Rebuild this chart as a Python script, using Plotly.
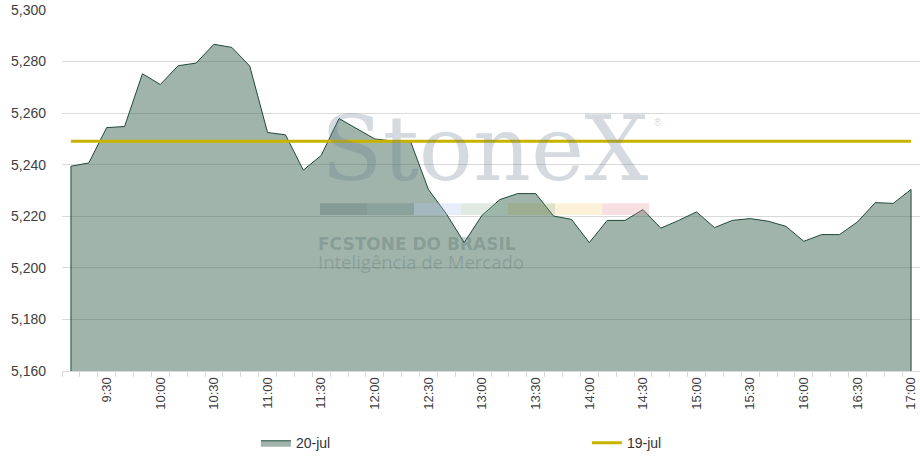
#!/usr/bin/env python3
# -*- coding: utf-8 -*-

"""
Dólar intradiário (20-jul) contra o fechamento do dia anterior (19-jul)
"""

import plotly.graph_objects as go

# horários (a cada 10 minutos)
times = [
    "9:10", "9:20", "9:30", "9:40", "9:50", "10:00", "10:10", "10:20",
    "10:30", "10:40", "10:50", "11:00", "11:10", "11:20", "11:30", "11:40",
    "11:50", "12:00", "12:10", "12:20", "12:30", "12:40", "12:50", "13:00",
    "13:10", "13:20", "13:30", "13:40", "13:50", "14:00", "14:10", "14:20",
    "14:30", "14:40", "14:50", "15:00", "15:10", "15:20", "15:30", "15:40",
    "15:50", "16:00", "16:10", "16:20", "16:30", "16:40", "16:50", "17:00",
]

# cotação do dia 20-jul
rate_20jul = [
    5.2394, 5.2407, 5.2544, 5.2548, 5.2753, 5.2711, 5.2784, 5.2794,
    5.2867, 5.2855, 5.2783, 5.2525, 5.2516, 5.2379, 5.2436, 5.2579,
    5.2539, 5.2500, 5.2492, 5.2490, 5.2304, 5.2210, 5.2098, 5.2204,
    5.2265, 5.2288, 5.2288, 5.2201, 5.2188, 5.2098, 5.2184, 5.2184,
    5.2226, 5.2154, 5.2184, 5.2217, 5.2156, 5.2184, 5.2191, 5.2181,
    5.2161, 5.2103, 5.2129, 5.2129, 5.2178, 5.2253, 5.2250, 5.2304,
]

# fechamento do dia 19-jul
close_19jul = 5.2491

y_range = [5.160, 5.300]

# cores da faixa do logo (marca d'água)
logo_colors = [
    "rgba(70,100,95,0.30)", "rgba(85,125,120,0.30)", "rgba(175,200,235,0.30)",
    "rgba(150,190,160,0.30)", "rgba(150,160,80,0.30)", "rgba(250,210,130,0.30)",
    "rgba(230,150,160,0.30)",
]

x_idx = list(range(len(times)))

fig = go.Figure()

# área fechada até a base do eixo (com bordas laterais)
fig.add_trace(go.Scatter(
    x=[x_idx[0]] + x_idx + [x_idx[-1]],
    y=[y_range[0]] + rate_20jul + [y_range[0]],
    name="20-jul",
    mode="lines",
    fill="toself",
    fillcolor="rgba(65,105,90,0.50)",
    line=dict(color="#1f4a3b", width=1),
    hoverinfo="skip",
))

fig.add_trace(go.Scatter(
    x=x_idx,
    y=[close_19jul] * len(x_idx),
    name="19-jul",
    mode="lines",
    line=dict(color="#c8b400", width=3),
))

# marca d'água StoneX
fig.add_annotation(
    x=0.493, y=0.617, xref="paper", yref="paper",
    text="StoneX", showarrow=False,
    font=dict(family="DejaVu Serif", size=90, color="rgba(100,120,140,0.27)"),
)
fig.add_annotation(
    x=0.702, y=0.709, xref="paper", yref="paper",
    text="®", showarrow=False,
    font=dict(family="Liberation Sans", size=10, color="rgba(100,120,140,0.3)"),
)
fig.add_annotation(
    x=0.296, y=0.352, xref="paper", yref="paper", xanchor="left",
    text="<b>FCSTONE DO BRASIL</b>", showarrow=False,
    font=dict(family="DejaVu Sans", size=17, color="rgba(80,100,100,0.30)"),
)
fig.add_annotation(
    x=0.296, y=0.263, xref="paper", yref="paper", xanchor="left",
    text="Inteligência de Mercado", showarrow=False,
    font=dict(family="Open Sans", size=18.5, color="rgba(80,100,100,0.28)"),
)
seg_w = 0.0548
for i, c in enumerate(logo_colors):
    fig.add_shape(
        type="rect", xref="paper", yref="paper",
        x0=0.3007 + i * seg_w, x1=0.3007 + (i + 1) * seg_w,
        y0=0.432, y1=0.465,
        fillcolor=c, line_width=0, layer="above",
    )

label_idx = [i for i, t in enumerate(times) if t.endswith(("00", "30"))]

fig.update_layout(
    width=920, height=460,
    margin=dict(l=62, r=0, t=10, b=89, autoexpand=False),
    paper_bgcolor="white",
    plot_bgcolor="white",
    separators=",.",
    font=dict(family="Liberation Sans", size=13, color="#333333"),
    showlegend=True,
    legend=dict(
        orientation="h", x=0.226, y=-0.2, xanchor="left", yanchor="middle",
        entrywidth=286, entrywidthmode="pixels",
        font=dict(size=14, color="#333333"),
    ),
)

fig.update_xaxes(
    automargin=False,
    range=[-0.5, len(times) - 0.5],
    tickmode="array",
    tickvals=label_idx,
    ticktext=[times[i] for i in label_idx],
    tickangle=-90,
    ticks="",
    showgrid=False,
    showline=True, linecolor="#d9d9d9", linewidth=1,
    zeroline=False,
    minor=dict(tickmode="linear", tick0=0.5, dtick=1, ticks="outside",
               ticklen=5, tickcolor="#d9d9d9", showgrid=False),
    tickfont=dict(size=13, color="#404040"),
)

fig.update_yaxes(
    automargin=False,
    range=y_range,
    dtick=0.02,
    tickformat=".3f",
    showgrid=True, gridcolor="#d9d9d9", gridwidth=1,
    zeroline=False,
    showline=False,
    ticklabelstandoff=15,
    tickfont=dict(size=14, color="#404040"),
)

# tira a margem padrão do body para a figura ocupar a janela toda
fig.write_html("out.html", config={"displayModeBar": False},
               post_script="document.body.style.margin = '0';")
